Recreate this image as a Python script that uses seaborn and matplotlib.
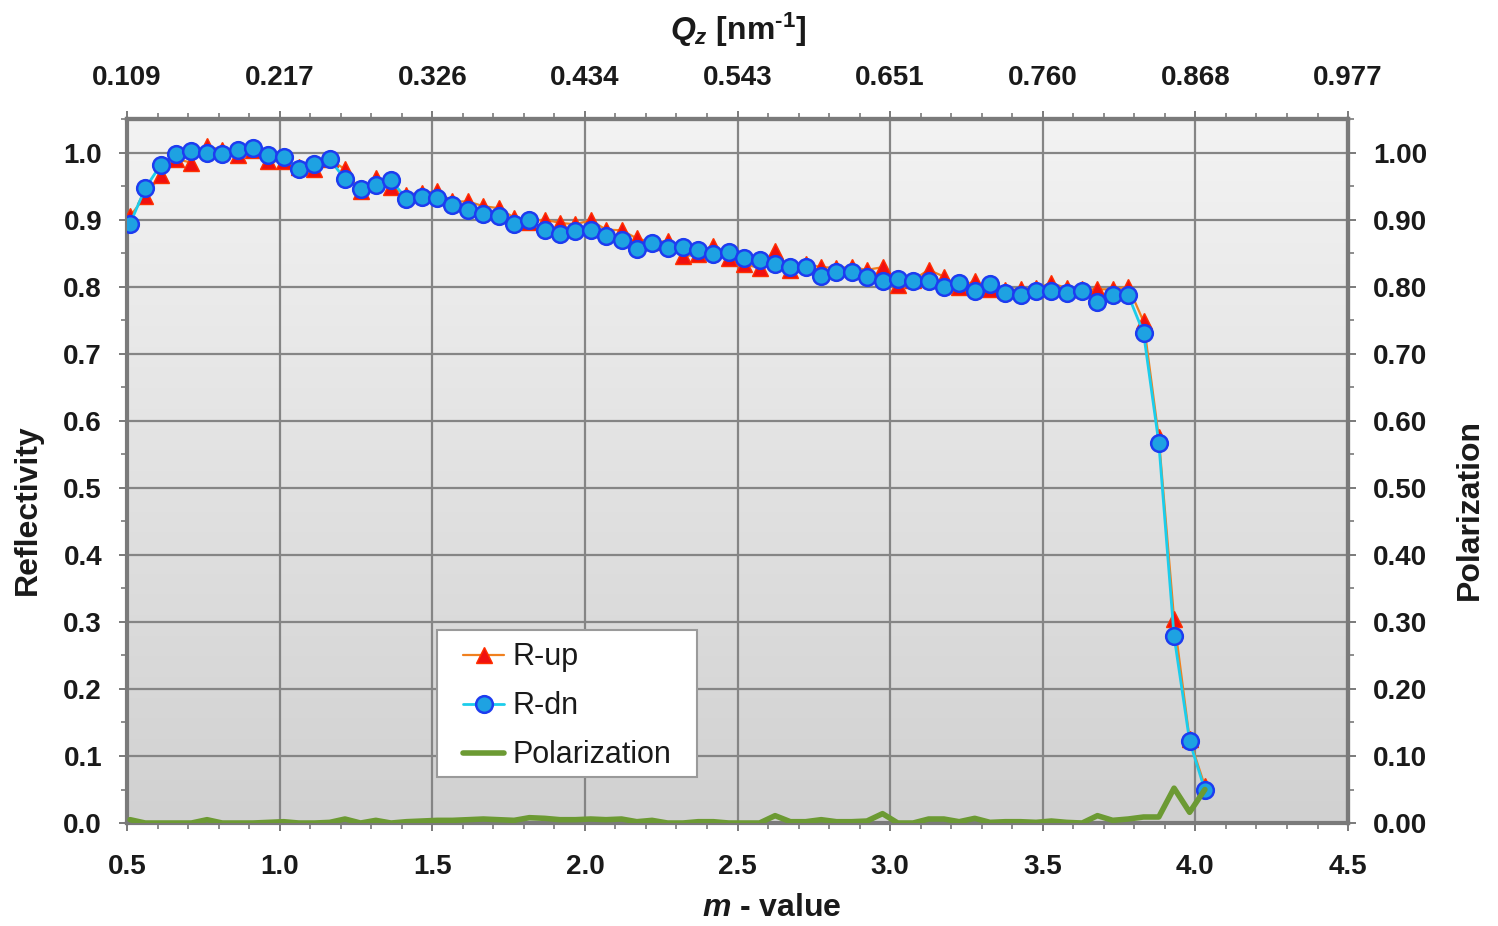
import numpy as np
import matplotlib
matplotlib.use("Agg")
import matplotlib.pyplot as plt
from matplotlib.colors import LinearSegmentedColormap
from matplotlib.patches import Rectangle
from matplotlib.ticker import MultipleLocator
import seaborn as sns

# m-value of each measured point
m_value = [0.510, 0.560, 0.611, 0.661, 0.711, 0.762, 0.812, 0.862, 0.912, 0.963,
           1.013, 1.063, 1.114, 1.164, 1.214, 1.265, 1.315, 1.365, 1.415, 1.466,
           1.516, 1.566, 1.617, 1.667, 1.717, 1.768, 1.818, 1.868, 1.918, 1.969,
           2.019, 2.069, 2.120, 2.170, 2.220, 2.271, 2.321, 2.371, 2.421, 2.472,
           2.522, 2.572, 2.623, 2.673, 2.723, 2.774, 2.824, 2.874, 2.924, 2.975,
           3.025, 3.075, 3.126, 3.176, 3.226, 3.277, 3.327, 3.377, 3.427, 3.478,
           3.528, 3.578, 3.629, 3.679, 3.729, 3.780, 3.830, 3.880, 3.930, 3.981,
           4.031]

# spin-up reflectivity
r_up = [0.905, 0.935, 0.967, 0.990, 0.985, 1.009, 1.004, 0.997, 1.004, 0.987,
        0.987, 0.979, 0.975, 0.990, 0.975, 0.942, 0.962, 0.949, 0.937, 0.940,
        0.942, 0.927, 0.927, 0.920, 0.917, 0.903, 0.897, 0.900, 0.895, 0.893,
        0.899, 0.885, 0.884, 0.872, 0.866, 0.868, 0.845, 0.848, 0.861, 0.843,
        0.833, 0.828, 0.853, 0.825, 0.834, 0.829, 0.828, 0.829, 0.825, 0.829,
        0.803, 0.810, 0.825, 0.815, 0.800, 0.808, 0.796, 0.795, 0.796, 0.798,
        0.805, 0.798, 0.796, 0.796, 0.796, 0.800, 0.748, 0.575, 0.305, 0.125,
        0.055]

# spin-down reflectivity
r_dn = [0.894, 0.947, 0.982, 0.998, 1.002, 1.000, 0.998, 1.004, 1.007, 0.997,
        0.993, 0.976, 0.983, 0.990, 0.960, 0.946, 0.951, 0.959, 0.931, 0.934,
        0.932, 0.921, 0.915, 0.908, 0.906, 0.893, 0.899, 0.885, 0.878, 0.883,
        0.885, 0.875, 0.869, 0.856, 0.865, 0.858, 0.859, 0.855, 0.849, 0.851,
        0.842, 0.840, 0.834, 0.829, 0.830, 0.816, 0.822, 0.822, 0.814, 0.808,
        0.812, 0.809, 0.809, 0.800, 0.805, 0.793, 0.804, 0.790, 0.788, 0.793,
        0.794, 0.790, 0.793, 0.777, 0.787, 0.787, 0.731, 0.567, 0.279, 0.122,
        0.049]

# polarization (right axis)
polarization = [0.005, 0.000, 0.000, 0.000, 0.000, 0.005, 0.000, 0.000, 0.000, 0.001,
                0.002, 0.000, 0.000, 0.001, 0.006, 0.000, 0.004, 0.000, 0.002, 0.003,
                0.004, 0.004, 0.005, 0.006, 0.005, 0.004, 0.008, 0.007, 0.005, 0.005,
                0.006, 0.005, 0.006, 0.002, 0.004, 0.000, 0.000, 0.002, 0.002, 0.000,
                0.000, 0.000, 0.011, 0.002, 0.002, 0.005, 0.002, 0.002, 0.003, 0.014,
                0.000, 0.000, 0.006, 0.006, 0.002, 0.007, 0.001, 0.002, 0.002, 0.001,
                0.003, 0.001, 0.000, 0.011, 0.004, 0.006, 0.009, 0.009, 0.052, 0.016,
                0.050]

m_ticks = [0.5, 1.0, 1.5, 2.0, 2.5, 3.0, 3.5, 4.0, 4.5]
m_tick_labels = ["0.5", "1.0", "1.5", "2.0", "2.5", "3.0", "3.5", "4.0", "4.5"]
qz_tick_labels = ["0.109", "0.217", "0.326", "0.434", "0.543", "0.651", "0.760", "0.868", "0.977"]
refl_ticks = [0.0, 0.1, 0.2, 0.3, 0.4, 0.5, 0.6, 0.7, 0.8, 0.9, 1.0]
refl_tick_labels = ["0.0", "0.1", "0.2", "0.3", "0.4", "0.5", "0.6", "0.7", "0.8", "0.9", "1.0"]
pol_tick_labels = ["0.00", "0.10", "0.20", "0.30", "0.40", "0.50", "0.60", "0.70", "0.80", "0.90", "1.00"]

sns.set_theme(style="white")
plt.rcParams["font.family"] = ["Liberation Sans", "DejaVu Sans"]
plt.rcParams["mathtext.fontset"] = "custom"
plt.rcParams["mathtext.it"] = "Liberation Sans:italic:bold"
plt.rcParams["mathtext.rm"] = "Liberation Sans:bold"
plt.rcParams["mathtext.bf"] = "Liberation Sans:bold"

fig = plt.figure(figsize=(14.98, 9.26), dpi=100)
fig.patch.set_facecolor("white")
ax = fig.add_axes([0.0848, 0.1112, 0.8151, 0.7603])

XMIN, XMAX, YMIN, YMAX = 0.5, 4.5, 0.0, 1.05
ax.set_xlim(XMIN, XMAX)
ax.set_ylim(YMIN, YMAX)

# grey vertical gradient behind the plot area
grad_cmap = LinearSegmentedColormap.from_list("bg", ["#d1d1d1", "#e2e2e2", "#f3f3f3"])
ax.imshow(np.linspace(0, 1, 256)[:, None], cmap=grad_cmap, origin="lower",
          extent=[XMIN, XMAX, YMIN, YMAX], aspect="auto", zorder=0,
          interpolation="bicubic")
ax.set_xlim(XMIN, XMAX)
ax.set_ylim(YMIN, YMAX)

ax.set_axisbelow(True)
ax.grid(True, which="major", color="#858585", lw=1.6)

sns.lineplot(x=m_value, y=r_up, ax=ax, color="#F0801E", lw=1.6,
             marker="^", markersize=11, markerfacecolor="#F01010",
             markeredgecolor="#FF3000", markeredgewidth=1.0,
             label="R-up", zorder=3, sort=False)
sns.lineplot(x=m_value, y=r_dn, ax=ax, color="#1CCDEB", lw=2.0,
             marker="o", markersize=12, markerfacecolor="#1EA2E2",
             markeredgecolor="#1D3CF0", markeredgewidth=1.8,
             label="R-dn", zorder=4, sort=False)
sns.lineplot(x=m_value, y=polarization, ax=ax, color="#6C9A33", lw=4.0,
             label="Polarization", zorder=5, sort=False)

tick_font = dict(fontsize=20, fontweight="bold", color="#1a1a1a")
spine_color = "#7a7a7a"

ax.set_xticks(m_ticks, labels=m_tick_labels, **tick_font)
ax.set_yticks(refl_ticks, labels=refl_tick_labels, **tick_font)
ax.xaxis.set_minor_locator(MultipleLocator(0.1))
ax.yaxis.set_minor_locator(MultipleLocator(0.05))
ax.tick_params(axis="both", which="major", direction="out", length=6, width=1.4,
               color=spine_color, bottom=True, left=True)
ax.tick_params(axis="x", which="major", pad=16)
ax.tick_params(axis="y", which="major", pad=12)
ax.tick_params(axis="both", which="minor", direction="out", length=4, width=1.2,
               color=spine_color, bottom=True, left=True)
for side in ["left", "bottom", "right", "top"]:
    ax.spines[side].set_color(spine_color)
    ax.spines[side].set_linewidth(3)

# top axis in Qz
sec_x = ax.secondary_xaxis("top")
sec_x.set_xticks(m_ticks, labels=qz_tick_labels, **tick_font)
sec_x.xaxis.set_minor_locator(MultipleLocator(0.1))
sec_x.tick_params(which="major", direction="out", length=6, width=1.4,
                  color=spine_color, pad=14)
sec_x.tick_params(which="minor", direction="out", length=4, width=1.2, color=spine_color)
sec_x.spines["top"].set_color(spine_color)
sec_x.spines["top"].set_linewidth(3)

# right axis for polarization
sec_y = ax.secondary_yaxis("right")
sec_y.set_yticks(refl_ticks, labels=pol_tick_labels, **tick_font)
sec_y.yaxis.set_minor_locator(MultipleLocator(0.05))
sec_y.tick_params(which="major", direction="out", length=6, width=1.4,
                  color=spine_color, pad=12)
sec_y.tick_params(which="minor", direction="out", length=4, width=1.2, color=spine_color)
sec_y.spines["right"].set_color(spine_color)
sec_y.spines["right"].set_linewidth(3)

label_font = dict(fontsize=23, fontweight="bold", color="#1a1a1a")
fig.text(28 / 1498, 1 - 510 / 926, "Reflectivity", rotation=90, ha="center", va="center", **label_font)
fig.text(1470 / 1498, 1 - 510 / 926, "Polarization", rotation=90, ha="center", va="center", **label_font)
fig.text(772 / 1498, 1 - 908 / 926, "$m$ - value", ha="center", va="center", **label_font)
fig.text(738 / 1498, 1 - 30 / 926, r"$Q_z$ [nm$^{\text{-1}}$]", ha="center", va="center", **label_font)

# legend: white box with the entries centred inside it
legend_box = Rectangle((0.2539, 0.0653), 0.2129, 0.2088, transform=ax.transAxes,
                       facecolor="white", edgecolor="#9a9a9a", lw=1.5, zorder=9)
ax.add_patch(legend_box)
leg = ax.legend(loc="center", bbox_to_anchor=(0.3604, 0.1657), fontsize=22,
                frameon=False, handlelength=1.35, handletextpad=0.25,
                labelspacing=0.62, borderpad=0.2, borderaxespad=0.0)
for t in leg.get_texts():
    t.set_color("#1a1a1a")
leg.set_zorder(10)

fig.savefig("out.png", dpi=100, facecolor="white")
